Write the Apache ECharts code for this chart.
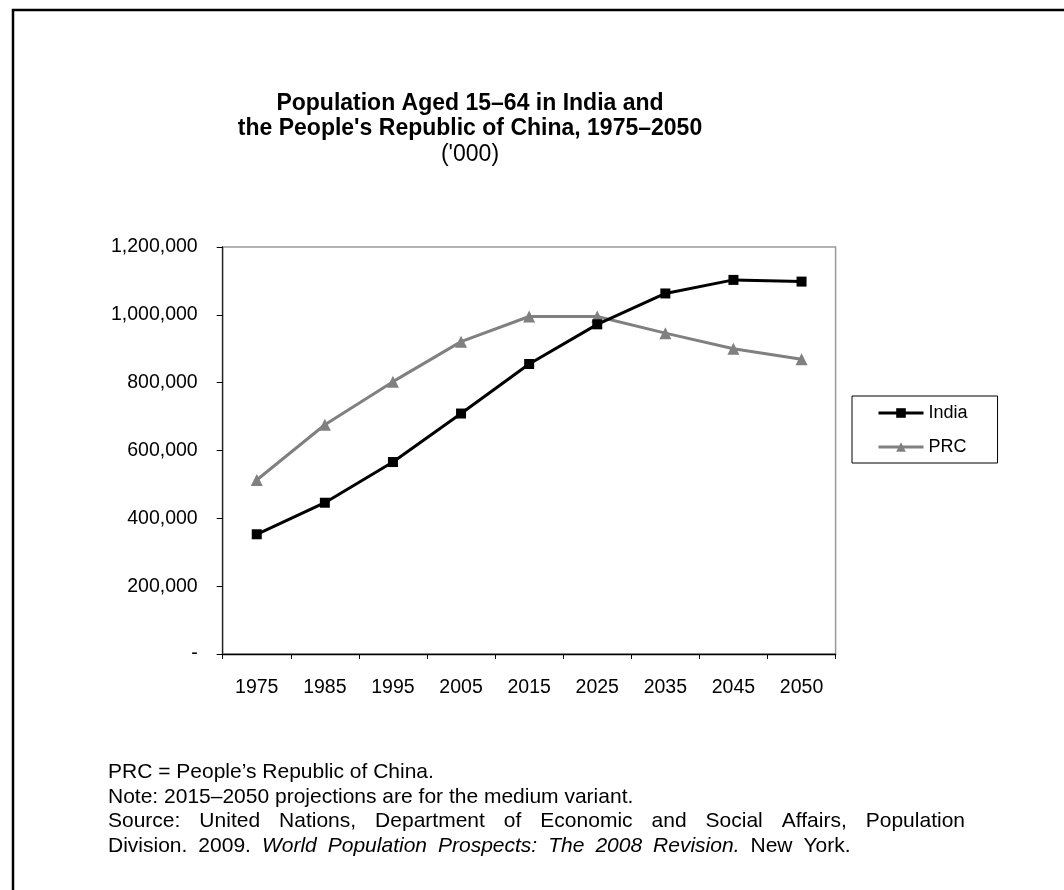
<!DOCTYPE html>
<html>
<head>
<meta charset="utf-8">
<script src="https://cdn.jsdelivr.net/npm/echarts@6/dist/echarts.min.js"></script>
<style>
  html, body { margin: 0; padding: 0; background: #fff; }
  #chart { width: 1064px; height: 890px; }
</style>
</head>
<body>
<div id="chart"></div>
<script>
// Population aged 15–64, thousands (UN WPP 2008, medium variant from 2015)
const years = ['1975', '1985', '1995', '2005', '2015', '2025', '2035', '2045', '2050'];
const india = [353000, 446000, 566000, 709000, 855000, 972000, 1063000, 1103000, 1098000];
const prc = [513000, 676000, 803000, 921000, 995000, 995000, 946000, 900000, 869000];
const yTicks = { min: 0, max: 1200000, interval: 200000 };

const FONT = "'Liberation Sans', Arial, Helvetica, sans-serif";

const chart = echarts.init(document.getElementById('chart'), null, { renderer: 'canvas' });

const fmt = v => v === 0 ? '-' : v.toLocaleString('en-US');

// The source paragraph is justified: words are joined by widened gaps
const sourceWords = ['Source:', 'United', 'Nations,', 'Department', 'of', 'Economic', 'and', 'Social', 'Affairs,', 'Population'];
const sourceRich = sourceWords.map(w => '{n|' + w + '}').join('{g| }');
const divisionParts = [
  ['n', 'Division.'], ['n', '2009.'], ['i', 'World'], ['i', 'Population'], ['i', 'Prospects:'],
  ['i', 'The'], ['i', '2008'], ['i', 'Revision.'], ['n', 'New'], ['n', 'York.']
];
const divisionRich = divisionParts.map(p => '{' + p[0] + '|' + p[1] + '}').join('{h| }');

const noteStyle = { fontFamily: FONT, fontSize: 21, fill: '#000', lineHeight: 24.5 };

chart.setOption({
  backgroundColor: '#fff',
  animation: false,
  title: {
    text: 'Population Aged 15–64 in India and\nthe People\'s Republic of China, 1975–2050',
    subtext: "('000)",
    left: 465,
    textAlign: 'center',
    top: 86,
    itemGap: 1,
    textStyle: { fontFamily: FONT, fontSize: 23, fontWeight: 'bold', color: '#000', lineHeight: 25 },
    subtextStyle: { fontFamily: FONT, fontSize: 23, color: '#000', lineHeight: 26 }
  },
  legend: {
    orient: 'vertical',
    left: 852,
    top: 396,
    padding: [8, 30, 7, 25],
    itemGap: 16,
    itemWidth: 45,
    itemHeight: 12,
    borderColor: '#000',
    borderWidth: 1,
    lineStyle: { width: 3 },
    textStyle: { fontFamily: FONT, fontSize: 18, color: '#000' },
    data: ['India', 'PRC']
  },
  grid: {
    left: 222.7,
    top: 247,
    right: 228.4,
    bottom: 236,
    show: true,
    borderColor: '#999',
    borderWidth: 1.5,
    containLabel: false
  },
  xAxis: {
    type: 'category',
    data: years,
    boundaryGap: true,
    axisLine: { lineStyle: { color: '#000', width: 1.3 } },
    axisTick: { show: true, length: 5, inside: false, lineStyle: { color: '#000' } },
    axisLabel: { fontFamily: FONT, fontSize: 19.5, color: '#000', margin: 24 },
    splitLine: { show: false }
  },
  yAxis: {
    type: 'value',
    min: yTicks.min,
    max: yTicks.max,
    interval: yTicks.interval,
    axisLine: { show: true, lineStyle: { color: '#222', width: 1.3 } },
    axisTick: { show: true, length: 6, lineStyle: { color: '#000' } },
    axisLabel: { fontFamily: FONT, fontSize: 19.5, color: '#000', margin: 25, formatter: fmt },
    splitLine: { show: false }
  },
  series: [
    {
      name: 'India',
      type: 'line',
      data: india,
      symbol: 'rect',
      symbolSize: 10,
      lineStyle: { color: '#000', width: 3 },
      itemStyle: { color: '#000' },
      z: 3
    },
    {
      name: 'PRC',
      type: 'line',
      data: prc,
      symbol: 'triangle',
      symbolSize: 12,
      lineStyle: { color: '#808080', width: 3 },
      itemStyle: { color: '#808080' },
      z: 2
    }
  ],
  graphic: [
    {
      type: 'rect',
      shape: { x: 13, y: 10, width: 1100, height: 1000 },
      style: { fill: 'none', stroke: '#000', lineWidth: 2.5 },
      silent: true
    },
    {
      type: 'text',
      x: 108, y: 760,
      style: {
        fill: '#000',
        font: '21px ' + FONT,
        lineHeight: 24.5,
        text: 'PRC = People’s Republic of China.\nNote: 2015–2050 projections are for the medium variant.'
      }
    },
    {
      type: 'text',
      x: 108, y: 809,
      style: {
        fill: '#000',
        text: sourceRich,
        rich: {
          n: noteStyle,
          g: Object.assign({}, noteStyle, { width: 19 })
        }
      }
    },
    {
      type: 'text',
      x: 108, y: 833.5,
      style: {
        fill: '#000',
        text: divisionRich,
        rich: {
          n: noteStyle,
          i: Object.assign({}, noteStyle, { fontStyle: 'italic' }),
          h: Object.assign({}, noteStyle, { width: 11 })
        }
      }
    }
  ]
});
</script>
</body>
</html>
